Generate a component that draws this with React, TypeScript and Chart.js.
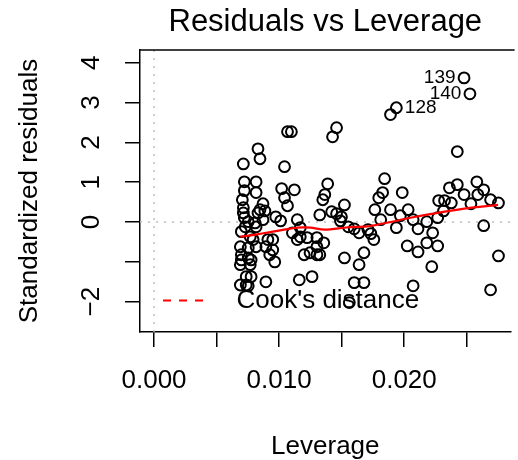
import React, { useEffect, useRef } from 'react';
import { Chart, registerables } from 'chart.js';

Chart.register(...registerables);

const FONT = "'Liberation Sans', Arial, Helvetica, sans-serif";

// Observations (leverage, standardized residual); first three are labelled
const leverage = [
  0.02478, 0.02525, 0.01937, 0.0189, 0.01459, 0.01427, 0.01067, 0.01098, 0.02424,
  0.00831, 0.00847, 0.00714, 0.01043, 0.00722, 0.00816, 0.00722, 0.00816, 0.0102, 0.01122,
  0.00706, 0.00871, 0.01043, 0.01067, 0.00714, 0.00847, 0.00886, 0.00973, 0.01012, 0.00722,
  0.00729, 0.00808, 0.00871, 0.01145, 0.00698, 0.00769, 0.00792, 0.00949, 0.0091, 0.01106,
  0.01145, 0.0069, 0.00753, 0.00816, 0.00894, 0.00949, 0.00698, 0.00753, 0.00925, 0.00965,
  0.0069, 0.00769, 0.00737, 0.00776, 0.00894, 0.0069, 0.00737, 0.01161, 0.00714, 0.00831,
  0.01169, 0.00776, 0.00698, 0.01224, 0.01302, 0.012, 0.01247, 0.01302, 0.01263, 0.00753,
  0.00816, 0.00753,
  0.01388, 0.01365, 0.01349, 0.01522, 0.01843, 0.01827, 0.01796, 0.01765, 0.01325, 0.0142,
  0.01459, 0.01498, 0.01812, 0.01553, 0.016, 0.01639, 0.0171, 0.01733, 0.01757, 0.01169,
  0.01357, 0.01302, 0.01325, 0.0149, 0.01522, 0.01678, 0.01639, 0.016, 0.01678, 0.01561,
  0.01984, 0.0189, 0.02031, 0.02071, 0.01937, 0.0211, 0.0218, 0.02227, 0.02024, 0.0211,
  0.0218, 0.02267, 0.0222, 0.02071, 0.02267, 0.02314, 0.02322, 0.02376, 0.02361, 0.02424,
  0.02478, 0.02533, 0.0258, 0.02588, 0.02635, 0.0269, 0.02753, 0.02635, 0.02753, 0.0269,
  0.01969, 0.02275,
];
const stdResiduals = [
  3.62, 3.22, 2.87, 2.7, 2.37, 2.14, 2.27, 2.27, 1.77,
  1.84, 1.59, 1.46, 1.39, 1.01, 1.01, 0.79, 0.74, 0.84, 0.81,
  0.56, 0.46, 0.61, 0.41, 0.36, 0.31, 0.28, 0.13, 0.03, 0.11,
  -0.12, -0.02, 0.06, 0.06, -0.24, -0.37, -0.44, -0.44, -0.44, -0.27,
  -0.44, -0.62, -0.65, -0.62, -0.62, -0.7, -0.82, -0.9, -0.82, -1.0,
  -1.07, -1.07, -1.37, -1.37, -1.5, -1.58, -1.58, -1.45, 0.23, 0.23,
  -0.14, -0.95, -0.95, -0.39, -0.39, -0.82, -0.77, -0.82, -1.37, 0.01,
  -0.12, -1.6,
  0.96, 0.69, 0.56, 0.43, 1.09, 0.74, 0.61, 0.31, 0.18, 0.26,
  0.21, 0.13, 0.06, -0.12, -0.17, -0.27, -0.19, -0.29, -0.44, -0.37,
  -0.52, -0.62, -0.82, 0.03, -0.9, -0.77, -1.07, -1.52, -1.52, -2.02,
  0.74, 0.31, 0.31, 0.06, -0.14, -0.17, 0.01, -0.27, -0.6, -0.75,
  -0.52, -0.6, -1.12, -1.6, 0.11, 0.28, 0.54, 0.48, 0.86, 0.94,
  0.69, 0.46, 1.01, 0.69, 0.81, 0.56, 0.48, -0.09, -0.85, -1.7,
  0.16, 0.54,
];
const labeledIndex = [0, 1, 2];
const pointIds = ['139', '140', '128'];
const labelSide = ['left', 'left', 'right'];

// Red smoother
const smoothLeverage = [0.0069, 0.008, 0.0095, 0.01145, 0.0125, 0.01365, 0.0155, 0.017, 0.0184, 0.0207, 0.023, 0.0251, 0.0275];
const smoothResid = [-0.37, -0.32, -0.24, -0.14, -0.14, -0.19, -0.13, -0.11, -0.03, 0.12, 0.25, 0.35, 0.43];

const xTickValues = [0, 0.005, 0.01, 0.015, 0.02, 0.025];
const xTickLabels = ['0.000', '', '0.010', '', '0.020', ''];
const yTickValues = [-2, -1, 0, 1, 2, 3, 4];
const yTickLabels = ['\u22122', '', '0', '1', '2', '3', '4'];
const xRange = [-0.00112, 0.0285];
const yRange = [-2.76, 4.32];

const frameTop = {
  id: 'frameTop',
  afterDraw(chart: any) {
    const { ctx, chartArea } = chart;
    ctx.save();
    ctx.strokeStyle = '#000';
    ctx.lineWidth = 1.5;
    ctx.beginPath();
    ctx.moveTo(chartArea.left - 0.75, chartArea.top);
    ctx.lineTo(chartArea.right + 4, chartArea.top);
    ctx.stroke();
    ctx.restore();
  },
};

const idLabels = {
  id: 'idLabels',
  afterDatasetsDraw(chart: any) {
    const { ctx } = chart;
    const x = chart.scales.x;
    const y = chart.scales.y;
    ctx.save();
    ctx.font = `19px ${FONT}`;
    ctx.fillStyle = '#000';
    ctx.textBaseline = 'middle';
    labeledIndex.forEach((idx, k) => {
      const px = x.getPixelForValue(leverage[idx]);
      const py = y.getPixelForValue(stdResiduals[idx]);
      const right = labelSide[k] === 'right';
      ctx.textAlign = right ? 'left' : 'right';
      ctx.fillText(pointIds[k], px + (right ? 8.5 : -8.5), py);
    });
    ctx.restore();
  },
};

const cookLegend = {
  id: 'cookLegend',
  afterDraw(chart: any) {
    const { ctx, chartArea } = chart;
    const ly = chartArea.bottom - 31.5;
    ctx.save();
    ctx.strokeStyle = '#ff0000';
    ctx.lineWidth = 2;
    ctx.setLineDash([8, 8]);
    ctx.beginPath();
    ctx.moveTo(chartArea.left + 23, ly);
    ctx.lineTo(chartArea.left + 63, ly);
    ctx.stroke();
    ctx.setLineDash([]);
    ctx.font = `26px ${FONT}`;
    ctx.fillStyle = '#000';
    ctx.textAlign = 'left';
    ctx.textBaseline = 'middle';
    ctx.fillText("Cook's distance", chartArea.left + 96.5, ly);
    ctx.restore();
  },
};

export default function App() {
  const ref = useRef<HTMLCanvasElement | null>(null);

  useEffect(() => {
    if (!ref.current) return;
    Chart.defaults.font.family = FONT;
    Chart.defaults.color = '#000';
    const points = leverage.map((v, i) => ({ x: v, y: stdResiduals[i] }));
    const smooth = smoothLeverage.map((v, i) => ({ x: v, y: smoothResid[i] }));
    const chart = new Chart(ref.current, {
      type: 'scatter',
      data: {
        datasets: [
          {
            data: smooth,
            showLine: true,
            borderColor: '#ff0000',
            borderWidth: 2.2,
            pointRadius: 0,
            tension: 0.3,
          } as any,
          {
            data: points,
            pointStyle: 'circle',
            pointRadius: 5.4,
            borderWidth: 2,
            borderColor: '#000',
            backgroundColor: 'rgba(0,0,0,0)',
          },
          {
            data: [{ x: xRange[0], y: 0 }, { x: xRange[1], y: 0 }],
            showLine: true,
            borderColor: '#bebebe',
            borderWidth: 1.5,
            borderDash: [2, 6],
            pointRadius: 0,
          } as any,
          {
            data: [{ x: 0, y: yRange[0] }, { x: 0, y: yRange[1] }],
            showLine: true,
            borderColor: '#bebebe',
            borderWidth: 1.5,
            borderDash: [2, 6],
            pointRadius: 0,
          } as any,
        ],
      },
      options: {
        animation: false,
        responsive: false,
        devicePixelRatio: 1,
        events: [],
        layout: { padding: 0 },
        plugins: {
          legend: { display: false },
          tooltip: { enabled: false },
          title: {
            display: true,
            text: 'Residuals vs Leverage',
            font: { size: 31, weight: 'normal' },
            color: '#000',
            padding: { top: 4, bottom: 8.8 },
            fullSize: false,
          } as any,
        },
        scales: {
          x: {
            type: 'linear',
            min: xRange[0],
            max: xRange[1],
            afterBuildTicks: (s: any) => {
              s.ticks = xTickValues.map((v) => ({ value: v }));
            },
            afterFit: (s: any) => {
              s.height = 128;
            },
            ticks: {
              autoSkip: false,
              maxRotation: 0,
              minRotation: 0,
              padding: 18,
              font: { size: 26 },
              color: '#000',
              callback: (_v: any, i: number) => xTickLabels[i],
            },
            grid: {
              drawOnChartArea: false,
              drawTicks: true,
              tickLength: 15,
              color: '#000',
              lineWidth: 1.5,
            },
            border: { display: true, color: '#000', width: 1.5 },
            title: {
              display: true,
              text: 'Leverage',
              font: { size: 26 },
              color: '#000',
              padding: { top: 0, bottom: -2.6 },
            },
          },
          y: {
            type: 'linear',
            min: yRange[0],
            max: yRange[1],
            afterBuildTicks: (s: any) => {
              s.ticks = yTickValues.map((v) => ({ value: v }));
            },
            afterFit: (s: any) => {
              s.width = 140;
            },
            ticks: {
              autoSkip: false,
              minRotation: 90,
              maxRotation: 90,
              crossAlign: 'center',
              padding: 18,
              font: { size: 26 },
              color: '#000',
              callback: (_v: any, i: number) => yTickLabels[i],
            },
            grid: {
              drawOnChartArea: false,
              drawTicks: true,
              tickLength: 15,
              color: '#000',
              lineWidth: 1.5,
            },
            border: { display: true, color: '#000', width: 1.5 },
            title: {
              display: true,
              text: 'Standardized residuals',
              font: { size: 26 },
              color: '#000',
              padding: { top: 14.4, bottom: 0 },
            },
          },
        },
      },
      plugins: [frameTop, idLabels, cookLegend],
    } as any);
    return () => chart.destroy();
  }, []);

  return (
    <div style={{ position: 'fixed', left: 0, top: 0, width: 518, height: 460, background: '#fff' }}>
      <canvas ref={ref} width={518} height={460} style={{ display: 'block', width: 518, height: 460 }} />
    </div>
  );
}
